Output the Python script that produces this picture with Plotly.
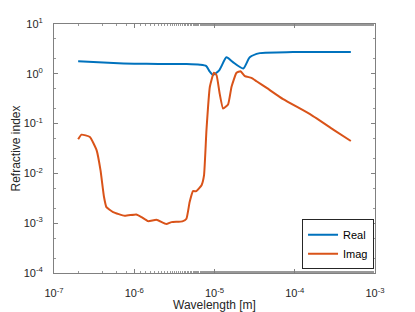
import plotly.graph_objects as go

# Wavelength [m] and refractive index values
wl_real = [2.0e-7, 5.5e-7, 1.0e-6, 2.0e-6, 4.5e-6, 6.6e-6, 7.9e-6, 8.75e-6, 9.6e-6,
           1.15e-5, 1.41e-5, 1.68e-5, 2.28e-5, 2.75e-5, 3.67e-5, 9.5e-5, 5.0e-4]
n_real = [1.78, 1.64, 1.60, 1.58, 1.57, 1.52, 1.43, 1.10, 0.95,
          1.19, 2.14, 1.74, 1.28, 2.14, 2.6, 2.73, 2.75]

wl_imag = [2.0e-7, 2.2e-7, 2.8e-7, 3.4e-7, 3.8e-7, 4.2e-7, 4.5e-7, 5.45e-7, 7.6e-7,
           1.06e-6, 1.23e-6, 1.49e-6, 1.89e-6, 2.51e-6, 2.91e-6, 3.98e-6, 4.47e-6,
           4.9e-6, 5.4e-6, 5.94e-6, 6.9e-6, 7.4e-6, 7.94e-6, 8.75e-6, 9.82e-6, 1.06e-5,
           1.16e-5, 1.28e-5, 1.48e-5, 1.63e-5, 1.88e-5, 2.11e-5, 2.39e-5, 2.88e-5,
           3.34e-5, 4.47e-5, 7.16e-5, 1.6e-4, 3.02e-4, 5.0e-4]
n_imag = [0.0485, 0.060, 0.054, 0.029, 0.0115, 0.00335, 0.0021, 0.00167, 0.00141,
          0.0015, 0.00133, 0.0011, 0.00117, 0.00096, 0.00105, 0.00109, 0.00123,
          0.00266, 0.0044, 0.0044, 0.0058, 0.0091, 0.074, 0.55, 1.05, 0.94,
          0.40, 0.20, 0.245, 0.55, 1.05, 1.13, 0.90, 0.83,
          0.71, 0.52, 0.31, 0.15, 0.076, 0.0447]

series_names = ["Real", "Imag"]

x_tickvals = [1e-7, 1e-6, 1e-5, 1e-4, 1e-3]
x_ticktext = ["10<sup>-7</sup>", "10<sup>-6</sup>", "10<sup>-5</sup>", "10<sup>-4</sup>", "10<sup>-3</sup>"]
y_tickvals = [1e-4, 1e-3, 1e-2, 1e-1, 1e0, 1e1]
y_ticktext = ["10<sup>-4</sup>", "10<sup>-3</sup>", "10<sup>-2</sup>", "10<sup>-1</sup>",
              "10<sup>0</sup>", "10<sup>1</sup>"]

FONT = "Liberation Sans, Arial, Helvetica, sans-serif"
tick_font = dict(family=FONT, size=11, color="#262626")
title_font = dict(family=FONT, size=12, color="#262626")

fig = go.Figure()
fig.add_trace(go.Scatter(x=wl_real, y=n_real, mode="lines", name=series_names[0],
                         line=dict(color="#0072BD", width=2, shape="spline", smoothing=0.6)))
fig.add_trace(go.Scatter(x=wl_imag, y=n_imag, mode="lines", name=series_names[1],
                         line=dict(color="#D95319", width=2, shape="spline", smoothing=0.4)))

axis_common = dict(
    type="log",
    ticks="inside", ticklen=4, tickcolor="#808080", tickwidth=1,
    minor=dict(ticks="inside", ticklen=2, tickcolor="#999999", showgrid=False),
    showline=True, linecolor="#808080", linewidth=1, mirror="ticks",
    showgrid=False, zeroline=False, tickfont=tick_font, automargin=False,
)

fig.update_layout(
    width=415, height=312,
    margin=dict(l=54, r=40, t=24, b=39),
    paper_bgcolor="white", plot_bgcolor="white",
    xaxis=dict(axis_common, range=[-7, -3], tickvals=x_tickvals, ticktext=x_ticktext,
               ticklabelstandoff=10,
               title=dict(text="Wavelength [m]", font=title_font, standoff=0)),
    yaxis=dict(axis_common, range=[-4, 1], tickvals=y_tickvals, ticktext=y_ticktext,
               ticklabelstandoff=8,
               title=dict(text="Refractive index", font=title_font, standoff=0)),
    legend=dict(x=0.997, y=0.015, xanchor="right", yanchor="bottom",
                bgcolor="white", bordercolor="#262626", borderwidth=1,
                font=dict(family=FONT, size=11, color="#000"),
                tracegroupgap=0, itemwidth=30),
    showlegend=True,
)

fig.write_html("out.html", config={"displayModeBar": False},
               post_script="document.body.style.margin='0';document.body.style.overflow='hidden';")
